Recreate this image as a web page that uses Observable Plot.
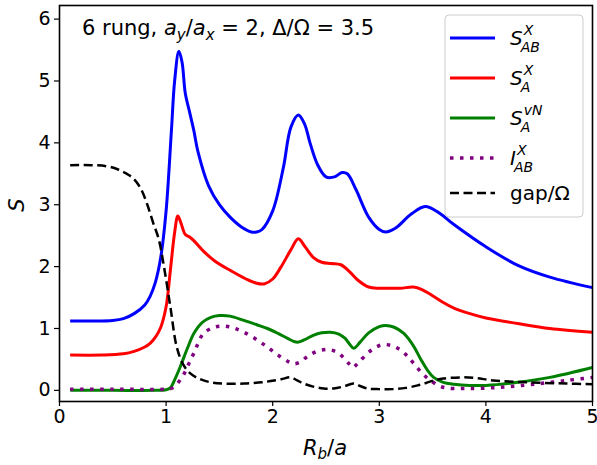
<!DOCTYPE html>
<html><head><meta charset="utf-8">
<script src="https://cdn.jsdelivr.net/npm/d3@7"></script>
<script src="https://cdn.jsdelivr.net/npm/@observablehq/plot@0.6"></script>
<style>body{margin:0;background:#fff;} svg{display:block}</style>
</head><body><div id="chart"></div>
<script>
// ---- data ----
const xTicks = [0, 1, 2, 3, 4, 5];
const yTicks = [0, 1, 2, 3, 4, 5, 6];

const sabX = [0.1,0.3,0.5,0.6,0.7,0.8,0.85,0.9,0.95,1.0,1.05,1.08,1.12,1.15,1.18,1.22,1.26,1.3,1.4,1.5,1.6,1.7,1.8,1.85,1.9,2.0,2.1,2.17,2.24,2.3,2.35,2.42,2.5,2.58,2.65,2.7,2.78,2.9,3.0,3.06,3.15,3.3,3.43,3.55,3.7,4.0,4.3,4.6,5.0];
const sabY = [1.12,1.12,1.13,1.16,1.24,1.38,1.52,1.75,2.15,2.9,4.2,5.0,5.48,5.3,4.8,4.5,4.2,3.85,3.3,3.0,2.8,2.65,2.56,2.56,2.6,2.9,3.6,4.25,4.45,4.3,4.0,3.65,3.45,3.45,3.52,3.5,3.25,2.8,2.6,2.56,2.62,2.85,2.97,2.88,2.68,2.32,2.02,1.83,1.66];

const saX = [0.1,0.4,0.6,0.7,0.8,0.85,0.9,0.95,1.0,1.04,1.08,1.11,1.14,1.18,1.22,1.26,1.35,1.45,1.6,1.75,1.85,1.92,2.0,2.08,2.17,2.24,2.3,2.38,2.46,2.55,2.64,2.72,2.8,2.9,3.0,3.1,3.2,3.32,3.4,3.5,3.6,3.7,3.85,4.0,4.3,4.6,5.0];
const saY = [0.57,0.57,0.59,0.63,0.7,0.76,0.86,1.02,1.35,1.94,2.55,2.82,2.7,2.52,2.48,2.42,2.25,2.1,1.94,1.8,1.73,1.72,1.8,2.0,2.27,2.45,2.33,2.15,2.07,2.05,2.03,1.92,1.78,1.67,1.65,1.65,1.65,1.67,1.63,1.53,1.42,1.33,1.24,1.17,1.08,1.0,0.94];

const svnX = [0.1,0.5,0.9,1.0,1.04,1.08,1.13,1.2,1.26,1.34,1.42,1.5,1.6,1.73,1.85,1.95,2.05,2.14,2.2,2.24,2.3,2.38,2.46,2.54,2.62,2.68,2.72,2.76,2.82,2.9,3.0,3.06,3.14,3.23,3.32,3.39,3.45,3.51,3.6,3.7,3.85,4.0,4.3,4.6,5.0];
const svnY = [0,0,0,0.01,0.04,0.17,0.37,0.68,0.92,1.1,1.18,1.21,1.2,1.13,1.06,1.0,0.92,0.84,0.79,0.78,0.82,0.89,0.93,0.94,0.91,0.84,0.75,0.68,0.78,0.93,1.03,1.05,1.02,0.92,0.72,0.5,0.33,0.21,0.13,0.1,0.08,0.08,0.13,0.21,0.37];

const iabX = [0.1,0.5,1.0,1.06,1.1,1.16,1.21,1.26,1.3,1.35,1.45,1.54,1.63,1.73,1.85,1.95,2.05,2.15,2.2,2.26,2.32,2.4,2.51,2.6,2.67,2.72,2.75,2.8,2.89,2.97,3.04,3.12,3.2,3.26,3.32,3.4,3.48,3.6,3.83,4.14,4.45,4.76,5.0];
const iabY = [0.02,0.02,0.02,0.04,0.1,0.24,0.42,0.6,0.76,0.92,1.02,1.04,1.01,0.94,0.82,0.7,0.57,0.46,0.43,0.46,0.54,0.62,0.66,0.62,0.52,0.42,0.37,0.44,0.6,0.7,0.74,0.72,0.65,0.56,0.44,0.28,0.16,0.05,0.03,0.05,0.1,0.16,0.21];

const gapX = [0.1,0.3,0.45,0.55,0.62,0.69,0.76,0.82,0.88,0.93,0.98,1.04,1.1,1.16,1.23,1.32,1.42,1.55,1.73,1.9,1.98,2.08,2.17,2.23,2.29,2.38,2.48,2.57,2.66,2.76,2.82,2.89,3.0,3.13,3.25,3.36,3.44,3.51,3.6,3.76,3.9,4.07,4.39,4.76,5.0];
const gapY = [3.64,3.64,3.62,3.57,3.51,3.43,3.27,3.02,2.7,2.45,2.0,1.35,0.7,0.42,0.27,0.18,0.13,0.11,0.11,0.13,0.15,0.18,0.21,0.16,0.11,0.06,0.03,0.03,0.06,0.11,0.07,0.03,0.02,0.02,0.04,0.08,0.12,0.16,0.19,0.21,0.2,0.16,0.13,0.11,0.1];

const seriesNames = ["SABX", "SAX", "SAvN", "IABX", "gap"];
const seriesColors = ["#0000ff", "#ff0000", "#008000", "#800080", "#000000"];
const seriesDash = [null, null, null, "3.5,6.5", "9,4.5"];
const seriesWidth = [3, 3, 3, 3.5, 2.5];
// legend labels: [base, superscript, subscript, italic]
const legendLabels = [["S","X","AB",true],["S","X","A",true],["S","vN","A",true],["I","X","AB",true],["gap/Ω",null,null,false]];

const toRows = (xs, ys) => xs.map((x, i) => ({x, y: ys[i]}));
const seriesRows = [toRows(sabX, sabY), toRows(saX, saY), toRows(svnX, svnY), toRows(iabX, iabY), toRows(gapX, gapY)];

const FONT = "DejaVu Sans, sans-serif";

const plot = Plot.plot({
  width: 597, height: 465,
  marginLeft: 59, marginRight: 5, marginTop: 5, marginBottom: 64,
  style: {fontFamily: FONT, fontSize: "19px", background: "white", color: "black", overflow: "visible"},
  x: {domain: [0, 5]},
  y: {domain: [-0.18, 6.22]},
  marks: [
    ...seriesRows.map((rows, i) => Plot.line(rows, {
      x: "x", y: "y", stroke: seriesColors[i], strokeWidth: seriesWidth[i],
      strokeDasharray: seriesDash[i] ?? undefined, curve: "catmull-rom",
      strokeLinecap: "butt", strokeLinejoin: "round"
    })),
    Plot.frame({stroke: "black", strokeWidth: 1.6}),
    Plot.axisX({ticks: xTicks, tickFormat: d => String(d), tickSize: 5, tickPadding: 3, label: null, fontSize: 19, strokeWidth: 1.2}),
    Plot.axisY({ticks: yTicks, tickFormat: d => String(d), tickSize: 5, tickPadding: 4, label: null, fontSize: 19, strokeWidth: 1.2})
  ]
});
document.getElementById("chart").appendChild(plot);

const svg = d3.select(plot);

// title inside the axes
const title = svg.append("text").attr("x", 82).attr("y", 35).attr("text-anchor", "start").attr("font-family", FONT).attr("font-size", 21).attr("fill", "black");
title.append("tspan").text("6 rung, ");
title.append("tspan").attr("font-style", "italic").text("a");
title.append("tspan").attr("font-style", "italic").attr("font-size", 15).attr("dy", 5).text("y");
title.append("tspan").attr("dy", -5).text("/");
title.append("tspan").attr("font-style", "italic").text("a");
title.append("tspan").attr("font-style", "italic").attr("font-size", 15).attr("dy", 5).text("x");
title.append("tspan").attr("dy", -5).text(" = 2, Δ/Ω = 3.5");

// axis labels
svg.append("text").attr("transform", "translate(24,205) rotate(-90)").attr("text-anchor", "middle")
  .attr("font-family", FONT).attr("font-size", 21).attr("font-style", "italic").text("S");
const xl = svg.append("text").attr("x", 325).attr("y", 455).attr("text-anchor", "middle").attr("font-family", FONT).attr("font-size", 21);
xl.append("tspan").attr("font-style", "italic").text("R");
xl.append("tspan").attr("font-style", "italic").attr("font-size", 15).attr("dy", 4).text("b");
xl.append("tspan").attr("dy", -4).text("/");
xl.append("tspan").attr("font-style", "italic").text("a");

// legend
const lg = svg.append("g").attr("text-anchor", "start");
lg.append("rect").attr("x", 445).attr("y", 15).attr("width", 138).attr("height", 202).attr("rx", 4)
  .attr("fill", "white").attr("fill-opacity", 0.8).attr("stroke", "#cccccc").attr("stroke-width", 1);
const rowY = [38, 78, 118, 158, 193];
legendLabels.forEach((lab, i) => {
  const y = rowY[i];
  lg.append("line").attr("x1", 450).attr("x2", 495).attr("y1", y).attr("y2", y)
    .attr("stroke", seriesColors[i]).attr("stroke-width", seriesWidth[i])
    .attr("stroke-dasharray", seriesDash[i]);
  const [base, sup, sub, ital] = lab;
  const bx = 510, by = y + 7;
  const t = lg.append("text").attr("x", bx).attr("y", by).attr("font-family", FONT).attr("font-size", 20)
    .attr("font-style", ital ? "italic" : "normal").text(base);
  const w = t.node().getComputedTextLength();
  if (sup) lg.append("text").attr("x", bx + w + 1).attr("y", by - 10).attr("font-family", FONT).attr("font-size", 14)
    .attr("font-style", "italic").text(sup);
  if (sub) lg.append("text").attr("x", bx + w - 2).attr("y", by + 7).attr("font-family", FONT).attr("font-size", 14)
    .attr("font-style", "italic").text(sub);
});
</script>
</body></html>
